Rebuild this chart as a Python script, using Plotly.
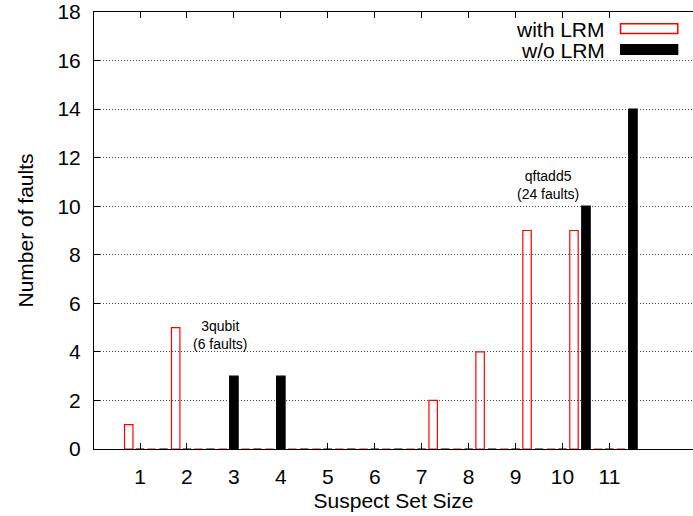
import plotly.graph_objects as go

# ---- data ----
sizes = list(range(1, 12))
tick_labels = [str(s) for s in sizes]
with_lrm_3qubit = [1, 5, 0, 0, 0, 0, 0, 0, 0, 0, 0]
wo_lrm_3qubit = [0, 0, 3, 3, 0, 0, 0, 0, 0, 0, 0]
with_lrm_qftadd5 = [0, 0, 0, 0, 0, 0, 2, 4, 9, 9, 0]
wo_lrm_qftadd5 = [0, 0, 0, 0, 0, 0, 0, 0, 0, 10, 14]
y_ticks = list(range(0, 19, 2))
legend_names = ["with LRM", "w/o LRM"]
label_3qubit = "3qubit<br>(6 faults)"
label_qftadd5 = "qftadd5<br>(24 faults)"

FONT = "Liberation Sans, Arial, Helvetica, sans-serif"
FS = 21
BAR_W = 0.18

series = [
    (with_lrm_3qubit, -0.24, "red", "rgba(0,0,0,0)"),
    (wo_lrm_3qubit, 0.0, "black", "black"),
    (with_lrm_qftadd5, 0.245, "red", "rgba(0,0,0,0)"),
    (wo_lrm_qftadd5, 0.5, "black", "black"),
]

fig = go.Figure()
for vals, off, line_c, fill_c in series:
    fig.add_trace(go.Bar(
        x=sizes, y=vals, width=BAR_W, offset=off - BAR_W / 2,
        marker=dict(color=fill_c, line=dict(color=line_c, width=1.2)),
        showlegend=False, hoverinfo="skip",
    ))

fig.update_layout(
    width=693, height=516,
    margin=dict(l=94, r=0, t=12, b=67),
    paper_bgcolor="white", plot_bgcolor="white",
    barmode="overlay",
    font=dict(family=FONT, size=FS, color="black"),
    showlegend=False,
)

fig.update_xaxes(
    range=[0.02, 12.78], automargin=False,
    tickmode="array", tickvals=sizes, ticktext=tick_labels,
    ticks="inside", ticklen=6, tickwidth=1, tickcolor="black",
    showline=True, linecolor="black", linewidth=1, mirror="ticks",
    showgrid=False, zeroline=False,
    ticklabelstandoff=9, ticklabeloverflow="allow",
    tickfont=dict(size=FS),
    title=dict(text="Suspect Set Size", font=dict(size=FS), standoff=6),
)
fig.update_yaxes(
    range=[0, 18], automargin=False,
    tickmode="array", tickvals=y_ticks,
    ticks="inside", ticklen=6, tickwidth=1, tickcolor="black",
    showline=True, linecolor="black", linewidth=1, mirror=False,
    showgrid=True, gridcolor="rgba(0,0,0,0.7)", gridwidth=1, griddash="1px,2px",
    zeroline=False,
    ticklabelstandoff=8, ticklabeloverflow="allow",
    tickfont=dict(size=FS),
    title=dict(text="Number of faults", font=dict(size=FS), standoff=18),
)

# group annotations
fig.add_annotation(x=2.71, y=4.69, xref="x", yref="y", text=label_3qubit,
                   showarrow=False, font=dict(size=14), align="center")
fig.add_annotation(x=9.70, y=10.88, xref="x", yref="y", text=label_qftadd5,
                   showarrow=False, font=dict(size=14), align="center")

# key (gnuplot style: text then sample)
fig.add_shape(type="rect", xref="paper", yref="paper", x0=0.6895, x1=0.9917,
              y0=0.8856, y1=1.0, fillcolor="white", line=dict(width=0),
              layer="between")
fig.add_annotation(x=0.8559, y=0.9604, xref="paper", yref="paper", text=legend_names[0],
                   showarrow=False, xanchor="right", yanchor="middle", font=dict(size=FS))
fig.add_annotation(x=0.8559, y=0.9130, xref="paper", yref="paper", text=legend_names[1],
                   showarrow=False, xanchor="right", yanchor="middle", font=dict(size=FS))
fig.add_shape(type="rect", xref="paper", yref="paper", x0=0.8790, x1=0.9746,
              y0=0.9507, y1=0.9731, fillcolor="rgba(0,0,0,0)",
              line=dict(color="red", width=1.5), layer="above")
fig.add_shape(type="rect", xref="paper", yref="paper", x0=0.8781, x1=0.9755,
              y0=0.9016, y1=0.9268, fillcolor="black",
              line=dict(color="black", width=0), layer="above")

fig.write_html("out.html", config={"displayModeBar": False},
               post_script="document.body.style.margin='0';")
